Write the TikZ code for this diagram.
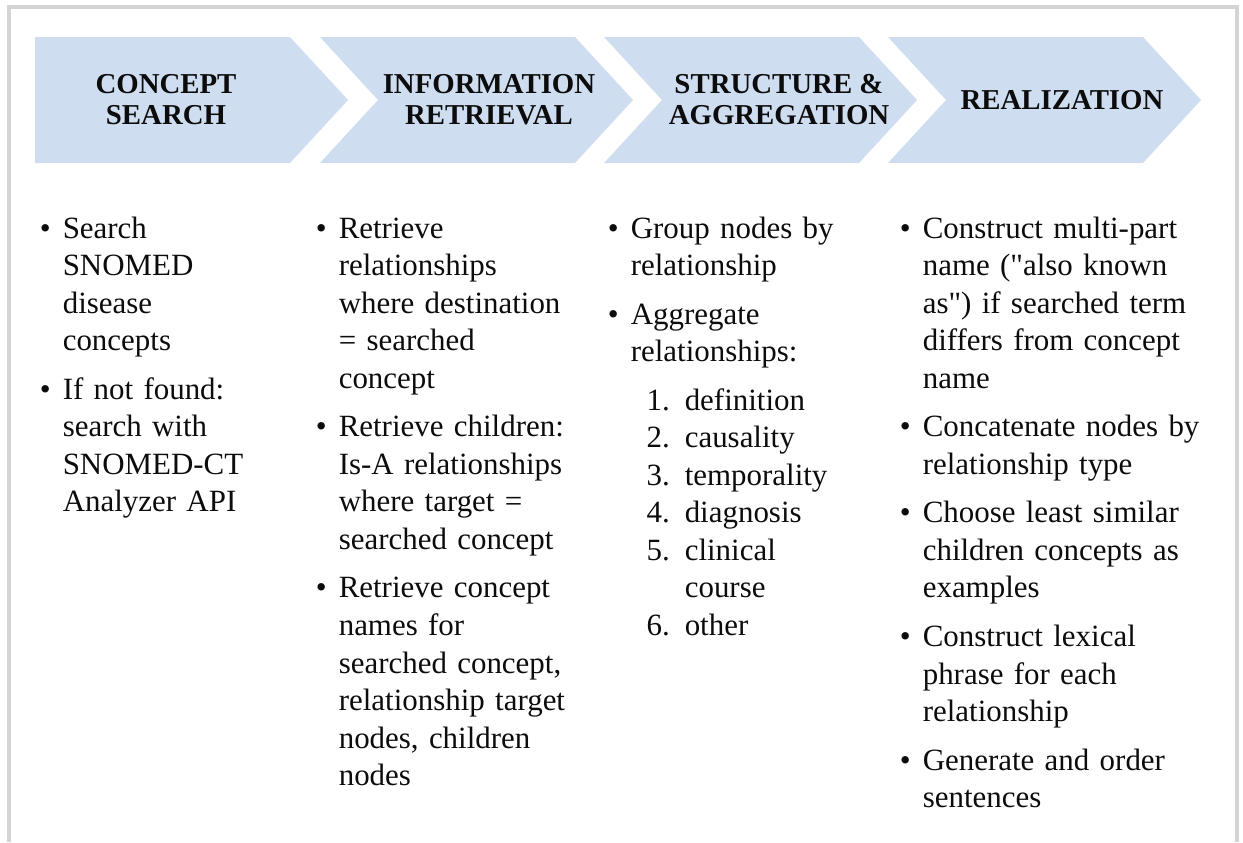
\documentclass[tikz,border=0pt]{standalone}
\usepackage{fontspec}
\setmainfont{Liberation Serif}

\definecolor{chevblue}{RGB}{206,221,240}
\definecolor{framegray}{RGB}{212,212,212}
\definecolor{inkblack}{RGB}{12,12,12}

% bullet, continuation and numbered-line helpers
\newcommand{\bulitem}{\makebox[0.575cm][l]{\textbullet}}
\newcommand{\contline}{\hspace*{0.575cm}}
\newcommand{\numitem}[1]{\makebox[1.35cm][r]{#1\hspace{0.375cm}}}
\newcommand{\itemgap}{\\[0.275cm]}

\tikzset{
  chev/.style={fill=chevblue},
  steptitle/.style={font=\fontsize{20.5pt}{22pt}\selectfont\bfseries, text=inkblack,
    align=center, inner sep=0pt},
  stepcol/.style={font=\fontsize{22pt}{26.7pt}\selectfont, text=inkblack,
    align=left, text width=8cm, inner sep=0pt, anchor=base west}
}

\begin{document}
\begin{tikzpicture}[x=0.025cm, y=-0.025cm]
  \useasboundingbox (0,0) rectangle (1243,842);
  % frame, open at the bottom
  \draw[framegray, line width=2.5pt] (9,842) -- (9,7) -- (1237,7) -- (1237,842);

  % process chevrons
  \fill[chev] (35,37) -- (290,37) -- (348,100) -- (290,163) -- (35,163) -- cycle;
  \fill[chev] (320,37) -- (575,37) -- (633,100) -- (575,163) -- (320,163) -- (378,100) -- cycle;
  \fill[chev] (604,37) -- (859,37) -- (917,100) -- (859,163) -- (604,163) -- (662,100) -- cycle;
  \fill[chev] (888,37) -- (1143,37) -- (1201,100) -- (1143,163) -- (888,163) -- (946,100) -- cycle;

  \node[steptitle] (search) at (166,100) {CONCEPT\\SEARCH};
  \node[steptitle] (retrieval) at (489,100) {INFORMATION\\RETRIEVAL};
  \node[steptitle] (aggregation) at (779,100) {STRUCTURE \&\\AGGREGATION};
  \node[steptitle] (realization) at (1062,100) {REALIZATION};

  % bullet columns
  \node[stepcol] (searchcol) at (39.5,238) {%
    \bulitem Search\\ \contline SNOMED\\ \contline disease\\ \contline concepts\itemgap
    \bulitem If not found:\\ \contline search with\\ \contline SNOMED-CT\\ \contline Analyzer API};

  \node[stepcol] (retrievalcol) at (315.5,238) {%
    \bulitem Retrieve\\ \contline relationships\\ \contline where destination\\
    \contline = searched\\ \contline concept\itemgap
    \bulitem Retrieve children:\\ \contline Is-A relationships\\ \contline where target =\\
    \contline searched concept\itemgap
    \bulitem Retrieve concept\\ \contline names for\\ \contline searched concept,\\
    \contline relationship target\\ \contline nodes, children\\ \contline nodes};

  \node[stepcol] (aggregationcol) at (607.5,238) {%
    \bulitem Group nodes by\\ \contline relationship\itemgap
    \bulitem Aggregate\\ \contline relationships:\itemgap
    \contline\numitem{1.}definition\\ \contline\numitem{2.}causality\\
    \contline\numitem{3.}temporality\\ \contline\numitem{4.}diagnosis\\
    \contline\numitem{5.}clinical\\ \contline\hspace*{1.35cm}course\\
    \contline\numitem{6.}other};

  \node[stepcol] (realizationcol) at (899.5,238) {%
    \bulitem Construct multi-part\\ \contline name (\textquotedbl also known\\
    \contline as\textquotedbl) if searched term\\
    \contline differs from concept\\ \contline name\itemgap
    \bulitem Concatenate nodes by\\ \contline relationship type\itemgap
    \bulitem Choose least similar\\ \contline children concepts as\\ \contline examples\itemgap
    \bulitem Construct lexical\\ \contline phrase for each\\ \contline relationship\itemgap
    \bulitem Generate and order\\ \contline sentences};
\end{tikzpicture}
\end{document}
